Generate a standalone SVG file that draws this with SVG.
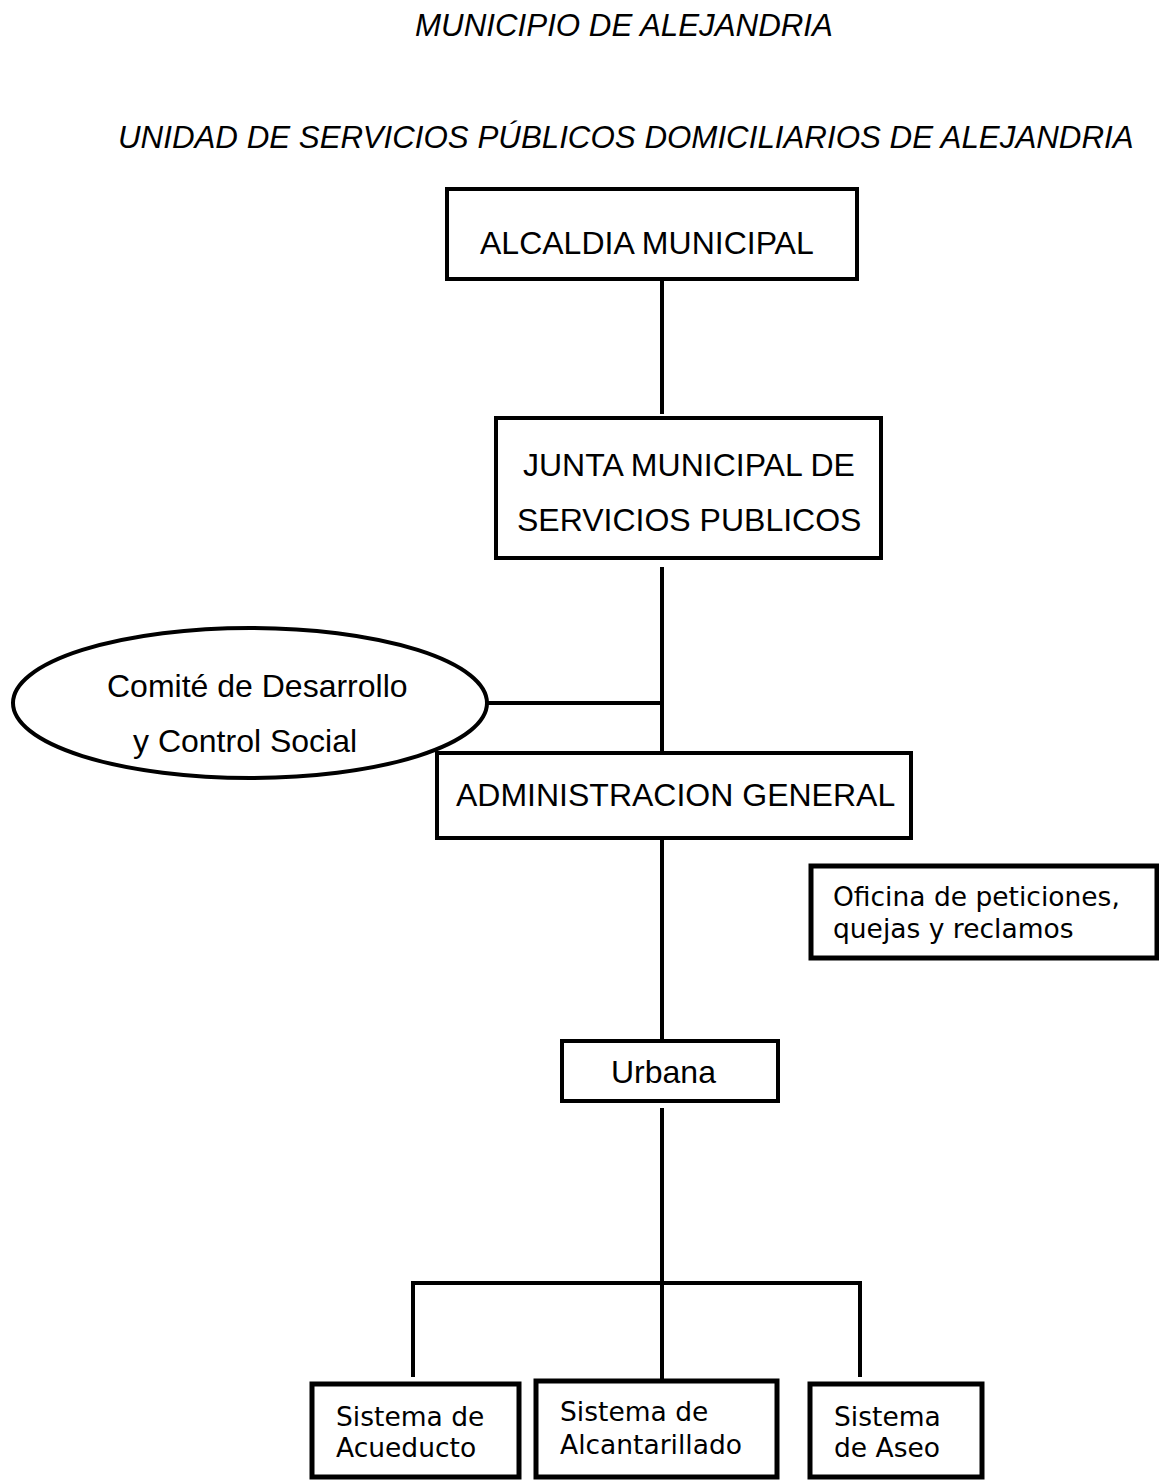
<svg xmlns="http://www.w3.org/2000/svg" width="1159" height="1481" viewBox="0 0 1159 1481">
<style>
.bg{fill:#ffffff}
.box{fill:#ffffff;stroke:#000000;stroke-width:4}
.boxb{fill:#ffffff;stroke:#000000;stroke-width:5}
.ln{stroke:#000000;stroke-width:4;fill:none}
.a{font-family:"Liberation Sans",Arial,sans-serif;font-size:32px;fill:#000000}
.t{font-family:"Liberation Sans",Arial,sans-serif;font-size:31.3px;font-style:italic;fill:#000000}
.v{font-family:"DejaVu Sans",Verdana,sans-serif;font-size:26.5px;fill:#000000}
</style>
<rect class="bg" x="0" y="0" width="1159" height="1481"/>
<g id="titles">
<text class="t" x="415" y="36">MUNICIPIO DE ALEJANDRIA</text>
<text class="t" x="118" y="148">UNIDAD DE SERVICIOS PÚBLICOS DOMICILIARIOS DE ALEJANDRIA</text>
</g>
<g id="connectors">
<line class="ln" x1="662" y1="279" x2="662" y2="414"/>
<line class="ln" x1="662" y1="567" x2="662" y2="753"/>
<line class="ln" x1="487" y1="703" x2="662" y2="703"/>
<line class="ln" x1="662" y1="838" x2="662" y2="1041"/>
<line class="ln" x1="662" y1="1108" x2="662" y2="1381"/>
<polyline class="ln" points="413,1377 413,1283 860,1283 860,1377"/>
</g>
<g id="node-alcaldia">
<rect class="box" x="447" y="189" width="410" height="90"/>
<text class="a" x="480" y="254">ALCALDIA MUNICIPAL</text>
</g>
<g id="node-junta">
<rect class="box" x="496" y="418" width="385" height="140"/>
<text class="a" x="523" y="476">JUNTA MUNICIPAL DE</text>
<text class="a" x="517" y="531">SERVICIOS PUBLICOS</text>
</g>
<g id="node-comite">
<ellipse class="box" cx="250" cy="703" rx="237" ry="75"/>
<text class="a" x="107" y="697">Comité de Desarrollo</text>
<text class="a" x="133" y="752">y Control Social</text>
</g>
<g id="node-administracion">
<rect class="box" x="437" y="753" width="474" height="85"/>
<text class="a" x="456" y="806">ADMINISTRACION GENERAL</text>
</g>
<g id="node-oficina">
<rect class="boxb" x="811" y="866" width="346" height="92"/>
<text class="v" x="833" y="906">Oficina de peticiones,</text>
<text class="v" x="833" y="938">quejas y reclamos</text>
</g>
<g id="node-urbana">
<rect class="box" x="562" y="1041" width="216" height="60"/>
<text class="a" x="611" y="1083">Urbana</text>
</g>
<g id="node-acueducto">
<rect class="boxb" x="312" y="1384" width="207" height="93"/>
<text class="v" x="336" y="1426">Sistema de</text>
<text class="v" x="336" y="1457">Acueducto</text>
</g>
<g id="node-alcantarillado">
<rect class="boxb" x="536" y="1381" width="241" height="96"/>
<text class="v" x="560" y="1421">Sistema de</text>
<text class="v" x="560" y="1454">Alcantarillado</text>
</g>
<g id="node-aseo">
<rect class="boxb" x="810" y="1384" width="172" height="93"/>
<text class="v" x="834" y="1426">Sistema</text>
<text class="v" x="834" y="1457">de Aseo</text>
</g>
</svg>
